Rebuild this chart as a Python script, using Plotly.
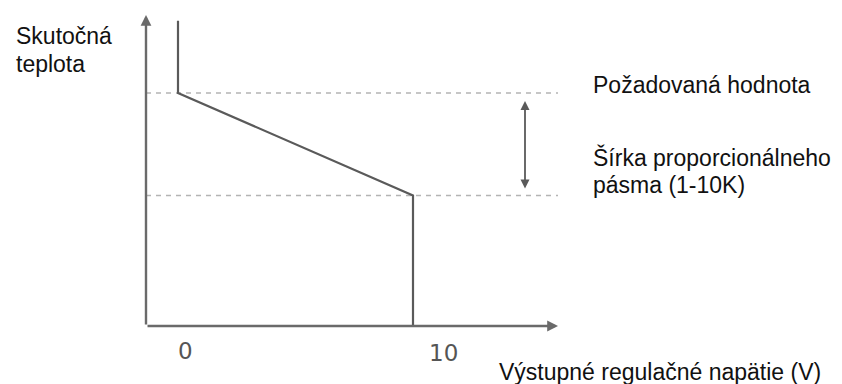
import plotly.graph_objects as go

# ---- data (schematic values) ----
output_voltage = [0, 0, 10, 10]          # V
actual_temp = [13.1, 10.0, 5.6, 0.0]     # arbitrary temperature units
setpoint = 10.0
band_low = 5.6
tick_vals = [0, 10]
tick_labels = ["0", "10"]
y_label = ["Skutočná", "teplota"]
setpoint_label = "Požadovaná hodnota"
band_label = ["Šírka proporcionálneho", "pásma (1-10K)"]
x_label = "Výstupné regulačné napätie (V)"

PAGE_W, PAGE_H = 842, 384
OFF = 8  # default body margin of the html page
W, H = PAGE_W - OFF, PAGE_H - OFF
# page pixel <-> data mapping
X0_PX, X_SCALE = 178.0, 23.5
Y0_PX, Y_SCALE = 326.0, 23.3


def dx(px):
    return (px - X0_PX) / X_SCALE


def dy(py):
    return (Y0_PX - py) / Y_SCALE


axis_x = dx(146)
x_end = dx(558)
y_end = dy(15)
dash_end = dx(558)
band_x = dx(525)

AXIS_COL = "#6a6a6a"
LINE_COL = "#5a5a5a"
DASH_COL = "#b4b4b4"
FONT = "Liberation Sans, Arial, sans-serif"

fig = go.Figure()

# dashed reference lines
fig.add_trace(go.Scatter(x=[axis_x, dash_end], y=[setpoint, setpoint], mode="lines",
                         line=dict(color=DASH_COL, width=1.6, dash="5px,5px"),
                         hoverinfo="skip", showlegend=False))
fig.add_trace(go.Scatter(x=[axis_x, dash_end], y=[band_low, band_low], mode="lines",
                         line=dict(color=DASH_COL, width=1.6, dash="5px,5px"),
                         hoverinfo="skip", showlegend=False))

# characteristic line
fig.add_trace(go.Scatter(x=output_voltage, y=actual_temp, mode="lines",
                         line=dict(color=LINE_COL, width=2.2),
                         showlegend=False))

annotations = []
# axes with arrows
annotations.append(dict(x=axis_x, y=y_end, ax=axis_x, ay=0, xref="x", yref="y",
                        axref="x", ayref="y", text="", showarrow=True,
                        arrowhead=2, arrowsize=0.9, arrowwidth=2.4, arrowcolor=AXIS_COL))
annotations.append(dict(x=x_end, y=0, ax=axis_x, ay=0, xref="x", yref="y",
                        axref="x", ayref="y", text="", showarrow=True,
                        arrowhead=2, arrowsize=0.9, arrowwidth=2.4, arrowcolor=AXIS_COL))
# band double arrow
annotations.append(dict(x=band_x, y=dy(101), ax=band_x, ay=dy(190), xref="x", yref="y",
                        axref="x", ayref="y", text="", showarrow=True,
                        arrowhead=2, startarrowhead=2, arrowside="end+start",
                        arrowsize=1.0, startarrowsize=1.0,
                        arrowwidth=1.8, arrowcolor=LINE_COL))

# tick labels
tick_px = [(185, 351), (443, 353)]
for (px, py), v, lab in zip(tick_px, tick_vals, tick_labels):
    annotations.append(dict(x=dx(px), y=dy(py), xref="x", yref="y", text=lab,
                            showarrow=False, xanchor="center", yanchor="middle",
                            font=dict(family="DejaVu Sans, sans-serif", size=23, color="#555555")))


def text_ann(txt, left_px, base_px, size=23):
    return dict(x=dx(left_px), y=dy(base_px - 7), xref="x", yref="y", text=txt,
                showarrow=False, xanchor="left", yanchor="middle",
                font=dict(family=FONT, size=size, color="#111111"))


annotations.append(text_ann(y_label[0], 14, 43))
annotations.append(text_ann(y_label[1], 14, 71))
annotations.append(text_ann(setpoint_label, 591, 92))
annotations.append(text_ann(band_label[0], 591, 164))
annotations.append(text_ann(band_label[1], 591, 192))
annotations.append(text_ann(x_label, 497, 379))

fig.update_layout(
    width=W, height=H,
    margin=dict(l=0, r=0, t=0, b=0),
    paper_bgcolor="white", plot_bgcolor="white",
    showlegend=False,
    xaxis=dict(range=[dx(OFF), dx(PAGE_W)], visible=False, fixedrange=True),
    yaxis=dict(range=[dy(PAGE_H), dy(OFF)], visible=False, fixedrange=True),
    annotations=annotations,
)

fig.write_html("out.html")
